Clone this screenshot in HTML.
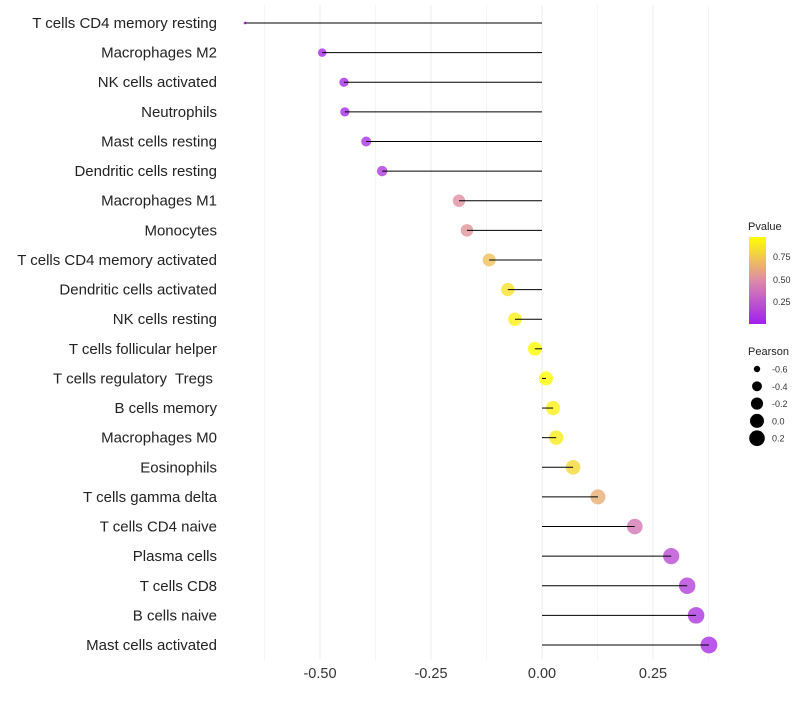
<!DOCTYPE html>
<html><head><meta charset="utf-8"><style>
body{margin:0;background:#fff;font-family:"Liberation Sans",Arial,sans-serif;}
svg text{font-family:"Liberation Sans",Arial,sans-serif;white-space:pre;}
</style></head><body>
<svg id="chart" width="800" height="700" xmlns="http://www.w3.org/2000/svg">
<defs><linearGradient id="pg" x1="0" y1="1" x2="0" y2="0">
<stop offset="0" stop-color="#a020f0"/><stop offset="0.5" stop-color="#dd8aa8"/><stop offset="1" stop-color="#ffff00"/>
</linearGradient></defs>
<g id="grid"></g>
<g id="marks"></g>
<g id="labels"></g>
<g id="xticks"></g>
<g>
<text x="748" y="230" font-size="11" fill="#222">Pvalue</text>
<rect x="749" y="237" width="17" height="87" fill="url(#pg)"/>
<text x="773" y="260" font-size="9" fill="#333">0.75</text>
<text x="773" y="283" font-size="9" fill="#333">0.50</text>
<text x="773" y="305" font-size="9" fill="#333">0.25</text>
</g>
<g id="sizeleg">
<text x="748" y="355" font-size="11" fill="#222">Pearson</text>
</g>
</svg>
<script>
const categories=["T cells CD4 memory resting","Macrophages M2","NK cells activated","Neutrophils","Mast cells resting","Dendritic cells resting","Macrophages M1","Monocytes","T cells CD4 memory activated","Dendritic cells activated","NK cells resting","T cells follicular helper","T cells regulatory  Tregs ","B cells memory","Macrophages M0","Eosinophils","T cells gamma delta","T cells CD4 naive","Plasma cells","T cells CD8","B cells naive","Mast cells activated"];
const pearson=[-0.669,-0.495,-0.446,-0.444,-0.396,-0.360,-0.187,-0.169,-0.119,-0.077,-0.061,-0.016,0.009,0.025,0.032,0.070,0.126,0.209,0.291,0.327,0.347,0.376];
const pvalue=[0.02,0.05,0.05,0.05,0.08,0.12,0.5,0.52,0.7,0.84,0.9,0.96,0.96,0.9,0.88,0.8,0.63,0.4,0.2,0.15,0.1,0.07];
const xTicks=[-0.5,-0.25,0,0.25];
const xTickLabels=["-0.50","-0.25","0.00","0.25"];
const sizeBreaks=[-0.6,-0.4,-0.2,0.0,0.2];
const sizeLabels=["-0.6","-0.4","-0.2","0.0","0.2"];
const NS="http://www.w3.org/2000/svg";
const x=v=>542+v*444;
const y=i=>23+i*(622/21);
const pmin=0,pmax=0.96;
const smin=Math.min(...pearson),smax=Math.max(...pearson);
const rad=v=>{const t=Math.max(0,(v-smin)/(smax-smin));return 1.4*(1+5*Math.sqrt(t));};
function lerp(a,b,t){return a.map((c,i)=>Math.round(c+(b[i]-c)*t));}
function col(p){const t=Math.min(1,Math.max(0,(p-pmin)/(pmax-pmin)));
 const A=[160,32,240],M=[221,138,168],B=[255,255,0];
 const c=t<0.5?lerp(A,M,t/0.5):lerp(M,B,(t-0.5)/0.5);return `rgb(${c.join(',')})`;}
function mk(tag,attrs,parent){const e=document.createElementNS(NS,tag);for(const k in attrs)e.setAttribute(k,attrs[k]);parent.appendChild(e);return e;}
const grid=document.getElementById('grid');
[-0.625,-0.375,-0.125,0.125,0.375].forEach(v=>{const l=mk('line',{x1:x(v),x2:x(v),y1:5,y2:660,stroke:'#f5f5f5','stroke-width':1},grid);

});
xTicks.forEach((v,i)=>{const l=mk('line',{x1:x(v),x2:x(v),y1:5,y2:660,stroke:'#eeeeee','stroke-width':1.1},grid);


const t=mk('text',{x:x(v),y:678,'text-anchor':'middle','font-size':14.5,fill:'#333'},document.getElementById('xticks'));t.textContent=xTickLabels[i];

});
const marks=document.getElementById('marks');
categories.forEach((c,i)=>{
 const p=mk('circle',{cx:x(pearson[i]),cy:y(i),r:rad(pearson[i]),fill:col(pvalue[i]),'fill-opacity':0.8},marks);
 
 
 const s=mk('line',{x1:x(0),x2:x(pearson[i]),y1:y(i),y2:y(i),stroke:'#000','stroke-width':1},marks);
 
 
 const t=mk('text',{x:217,y:y(i)+5,'text-anchor':'end','font-size':15,fill:'#222'},document.getElementById('labels'));
 t.textContent=c;
 
 
});
const sl=document.getElementById('sizeleg');
sizeBreaks.forEach((v,i)=>{const yy=369+i*17.3;
 const c=mk('circle',{cx:757,cy:yy,r:rad(v),fill:'#000'},sl);
 
 
 const t=mk('text',{x:772,y:yy+3.5,'font-size':9,fill:'#333'},sl);t.textContent=sizeLabels[i];
 
 });
</script>
</body></html>
